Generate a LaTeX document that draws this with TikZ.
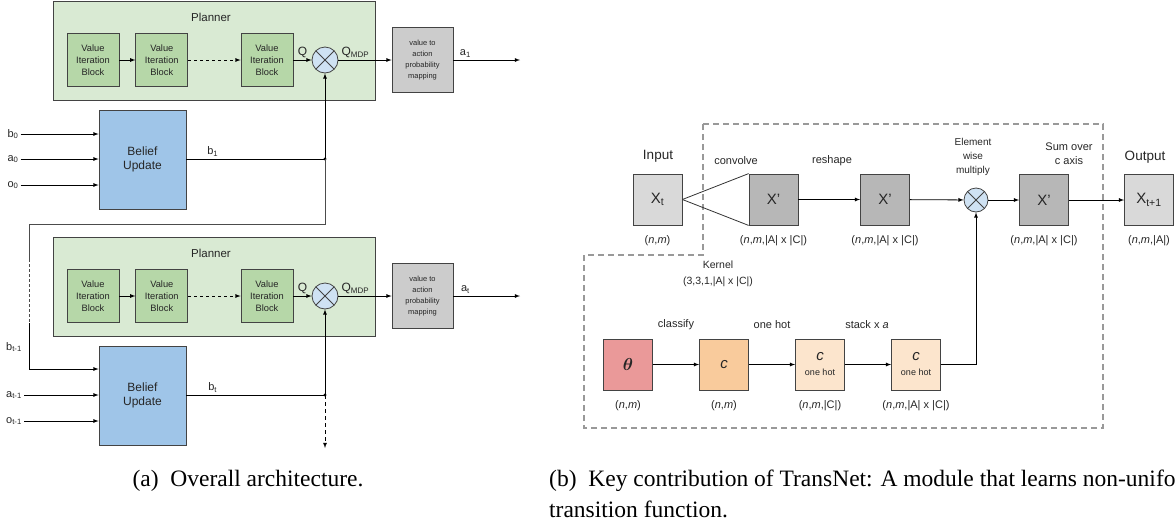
\documentclass[tikz,border=0pt]{standalone}
\usepackage{fontspec}
\setmainfont{Liberation Sans}
\newfontfamily\capfont{Liberation Serif}
\usepackage{amsmath}
\usetikzlibrary{positioning, arrows}

\definecolor{plangreen}{HTML}{D9EAD3}
\definecolor{vibgreen}{HTML}{B6D7A8}
\definecolor{beliefblue}{HTML}{9FC5E8}
\definecolor{mulblue}{HTML}{CFE2F3}
\definecolor{mapgray}{HTML}{CCCCCC}
\definecolor{xlight}{HTML}{D9D9D9}
\definecolor{xdark}{HTML}{B7B7B7}
\definecolor{thetared}{HTML}{EA9999}
\definecolor{corange}{HTML}{F9CB9C}
\definecolor{cpale}{HTML}{FCE5CD}
\definecolor{edgegray}{HTML}{434343}

\newcommand{\fsz}[2]{\fontsize{#1}{#2}\selectfont}

\tikzset{
  box/.style={draw=edgegray, line width=0.8pt, inner sep=0pt, align=center, text=black!85},
  planbox/.style={box, fill=plangreen, minimum width=322pt, minimum height=99pt},
  vib/.style={box, fill=vibgreen, minimum width=52pt, minimum height=53pt, font=\fsz{9.3}{12}},
  mapbox/.style={box, fill=mapgray, minimum width=61pt, minimum height=65pt, font=\fsz{7.5}{11}},
  belief/.style={box, fill=beliefblue, minimum width=87pt, minimum height=99pt, font=\fsz{12}{14}},
  xbox/.style={box, fill=xlight, minimum width=49pt, minimum height=51pt, font=\fsz{15}{18}},
  mult/.style={circle, draw=edgegray, line width=0.8pt, fill=mulblue, minimum size=#1, inner sep=0pt,
    path picture={\draw[edgegray, line width=0.8pt]
      (path picture bounding box.north west) -- (path picture bounding box.south east)
      (path picture bounding box.north east) -- (path picture bounding box.south west);}},
  mult/.default=26pt,
  lbl/.style={font=\fsz{11}{14}, text=black!85, align=center, inner sep=2pt},
  dims/.style={font=\fsz{11}{13}, text=black!85},
  link/.style={-latex, line width=0.8pt},
  frame/.style={draw=black!40, line width=1.2pt, dash pattern=on 6pt off 4pt},
  caption/.style={font=\capfont\fsz{23.5}{28}, inner sep=0pt},
}

\begin{document}
\begin{tikzpicture}[x=1pt, y=-1pt]
\useasboundingbox (0,0) rectangle (1176,523);
\clip (0,0) rectangle (1176,523);

% (a) planner rows
\foreach \r/\dy/\sub in {1/0/1, 2/236/t} {
  \node[planbox] (plan\r) at (214,50.5+\dy) {};
  \node[lbl, font=\fsz{11.5}{14}] (plantitle\r) at (211,17+\dy) {Planner};
  \node[vib] (viA\r) at (93,60+\dy) {Value\\Iteration\\Block};
  \node[vib, right=16pt of viA\r] (viB\r) {Value\\Iteration\\Block};
  \node[vib] (viC\r) at (267,60+\dy) {Value\\Iteration\\Block};
  \node[mult] (mul\r) at (325,60+\dy) {};
  \node[mapbox] (map\r) at (422.5,60+\dy) {value to\\action\\probability\\mapping};
  \node[belief] (bel\r) at (142.5,159.5+\dy) {Belief\\Update};
  \coordinate (out\r) at (520,60+\dy);
  \coordinate (join\r) at (325,159+\dy);

  \draw[link] (viA\r) -- (viB\r);
  \draw[link, dash pattern=on 3pt off 3pt] (viB\r) -- (viC\r);
  \draw[link] (viC\r) -- node[lbl, above, font=\fsz{12}{14}] {Q} (mul\r);
  \draw[link] (mul\r) -- node[lbl, above, pos=0.32, font=\fsz{12}{14}] {Q\textsubscript{MDP}} (map\r);
  \draw[link] (map\r) -- node[lbl, above, pos=0.18] {a\textsubscript{\sub}} (out\r);
  \draw[line width=0.8pt] (bel\r.east |- join\r) -- node[lbl, above, pos=0.19] {b\textsubscript{\sub}} (join\r);
  \draw[link] (join\r) -- (mul\r);
  \fill (join\r) circle (1.6pt);
}

% inputs of the belief updates
\node[lbl] (inb0) at (13,134) {b\textsubscript{0}};
\node[lbl] (ina0) at (13,159) {a\textsubscript{0}};
\node[lbl] (ino0) at (13,185) {o\textsubscript{0}};
\node[lbl] (inbt) at (14,347) {b\textsubscript{t-1}};
\node[lbl] (inat) at (14,395) {a\textsubscript{t-1}};
\node[lbl] (inot) at (14,421) {o\textsubscript{t-1}};
\foreach \n/\b in {inb0/bel1, ina0/bel1, ino0/bel1, inat/bel2, inot/bel2}
  \draw[link] (\n) -- (\n -| \b.west);

% belief loop back to the next step
\coordinate (loopa) at (325,224);
\coordinate (loopb) at (29,224);
\coordinate (loopc) at (29,259);
\coordinate (loopd) at (29,323);
\coordinate (loope) at (29,369);
\coordinate (tail) at (325,448);
\draw[line width=0.8pt, black!70] (join1) -- (loopa) -- (loopb) -- (loopc);
\draw[line width=0.8pt, black!70, dash pattern=on 3pt off 2pt] (loopc) -- (loopd);
\draw[link] (loopd) -- (loope) -- (loope -| bel2.west);
\draw[link, dash pattern=on 4pt off 3pt] (join2) -- (tail);

% (b) transition module
\draw[frame] (703,124) -- (1103,124) -- (1103,428) -- (584,428) -- (584,255) -- (703,255) -- cycle;

\node[xbox] (xin) at (657.5,199.5) {X\textsubscript{t}};
\node[xbox, fill=xdark] (xconv) at (773.5,199.5) {X'};
\node[xbox, fill=xdark] (xshape) at (885,199.5) {X'};
\node[mult=24pt] (mulx) at (976,200) {};
\node[xbox, fill=xdark] (xsum) at (1044,200) {X'};
\node[xbox] (xout) at (1149,200) {X\textsubscript{t+1}};

\node[lbl, font=\fsz{13.5}{16}] (intitle) at (658,156) {Input};
\node[lbl, font=\fsz{13.5}{16}] (outtitle) at (1145,157) {Output};
\node[lbl] (convtext) at (736,161) {convolve};
\node[lbl] (shapetext) at (832,161) {reshape};
\node[lbl, font=\fsz{10}{14}] (multext) at (973,157) {Element\\wise\\multiply};
\node[lbl] (sumtext) at (1069,154) {Sum over\\c axis};
\node[lbl, font=\fsz{10.5}{16}] (kernel) at (718,274) {Kernel\\(3,3,1,|A| x |C|)};

\node[dims] (xindim) at (657.5,241) {(\textit{n},\textit{m})};
\node[dims] (xconvdim) at (773.5,241) {(\textit{n},\textit{m},|A| x |C|)};
\node[dims] (xshapedim) at (885,241) {(\textit{n},\textit{m},|A| x |C|)};
\node[dims] (xsumdim) at (1044,241) {(\textit{n},\textit{m},|A| x |C|)};
\node[dims] (xoutdim) at (1149,241) {(\textit{n},\textit{m},|A|)};

\draw[line width=0.8pt, black!80] (xin.east) -- (xconv.north west);
\draw[line width=0.8pt, black!80] (xin.east) -- (xconv.south west);
\draw[link] (xconv) -- (xshape);
\draw[link] (xshape) -- (mulx);
\draw[link] (mulx) -- (xsum);
\draw[link] (xsum) -- (xout);

% class branch
\node[xbox, fill=thetared, font=\fsz{17}{18}] (theta) at (628,364.5) {$\boldsymbol{\theta}$};
\node[xbox, fill=corange] (cls) at (724,364.5) {\textit{c}};
\node[xbox, fill=cpale] (hot) at (820,364.5) {\textit{c}\\[-3pt]{\fsz{9}{10}\selectfont one hot}};
\node[xbox, fill=cpale] (stack) at (916,364.5) {\textit{c}\\[-3pt]{\fsz{9}{10}\selectfont one hot}};

\node[lbl] (clstext) at (676,325) {classify};
\node[lbl] (hottext) at (772,325) {one hot};
\node[lbl] (stacktext) at (867,325) {stack x \textit{a}};

\node[dims] (thetadim) at (628,406) {(\textit{n},\textit{m})};
\node[dims] (clsdim) at (724,406) {(\textit{n},\textit{m})};
\node[dims] (hotdim) at (820,406) {(\textit{n},\textit{m},|C|)};
\node[dims] (stackdim) at (916,406) {(\textit{n},\textit{m},|A| x |C|)};

\draw[link] (theta) -- (cls);
\draw[link] (cls) -- (hot);
\draw[link] (hot) -- (stack);
\draw[link] (stack) -| (mulx);

% captions
\node[caption] (capa) at (248,481) {(a)\ \ Overall architecture.};
\node[caption, anchor=west] (capb) at (549,481) {(b)\ \ Key contribution of TransNet: A module that learns non-uniform};
\node[caption, anchor=west] (capb2) at (549,509) {transition function.};
\end{tikzpicture}
\end{document}
